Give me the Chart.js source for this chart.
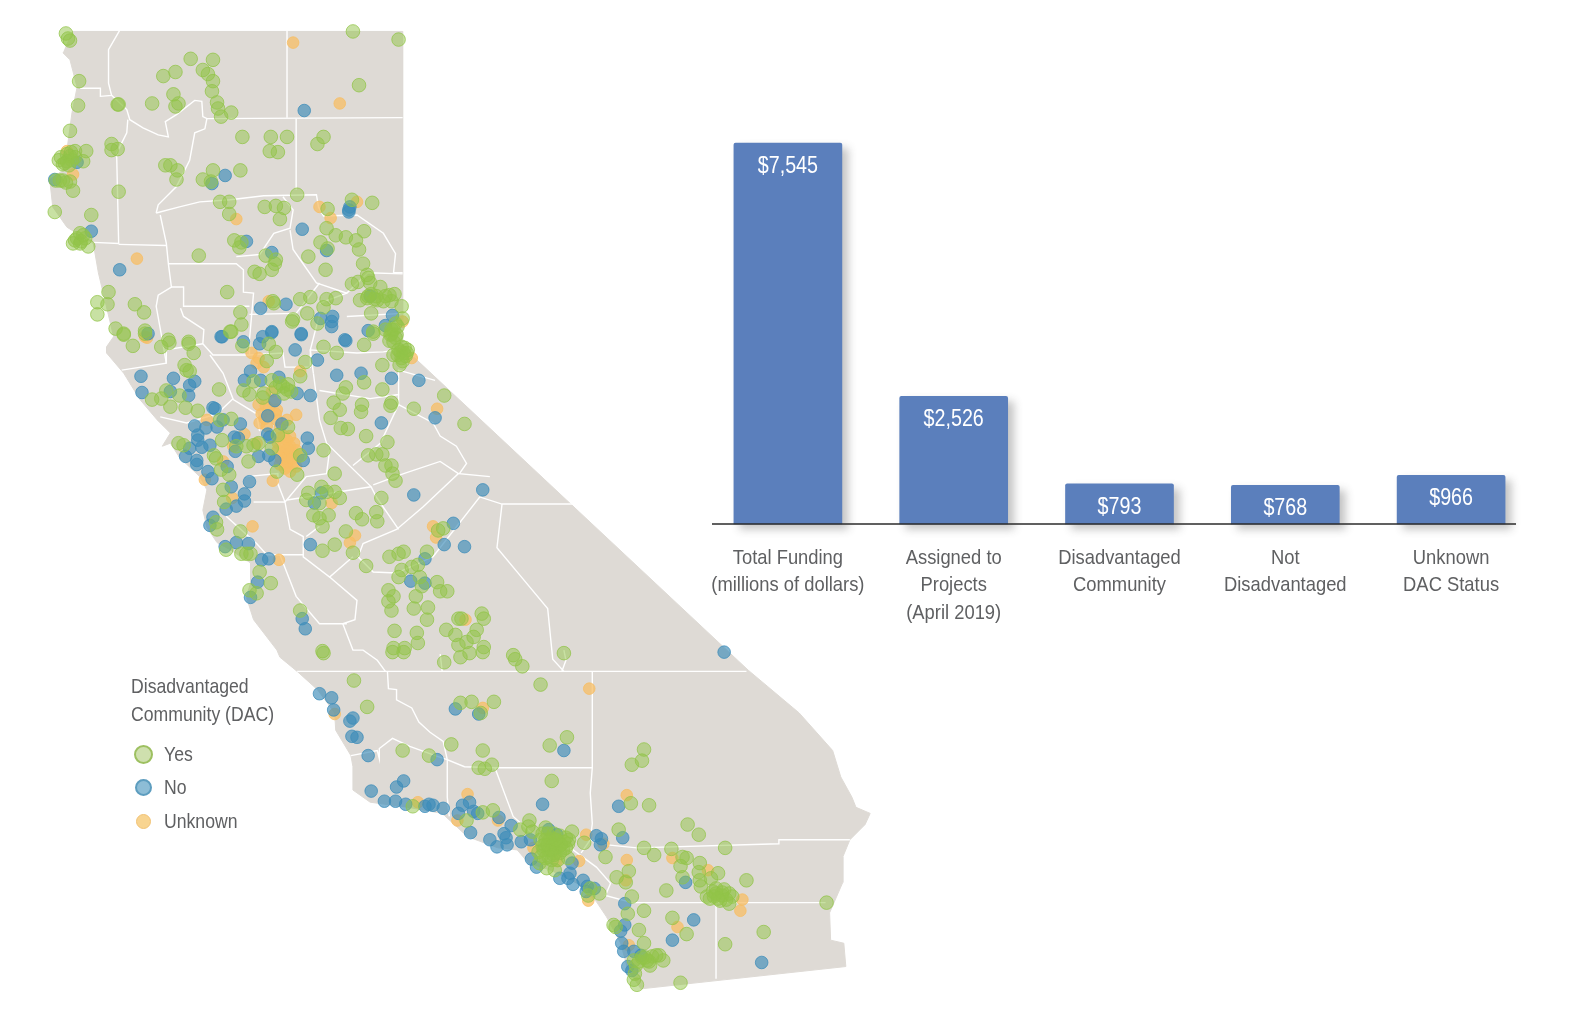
<!DOCTYPE html>
<html>
<head>
<meta charset="utf-8">
<title>Funding by disadvantaged community status</title>
<script src="https://cdn.jsdelivr.net/npm/chart.js@4"></script>
<style>
body { margin: 0; background: #fff; width: 1590px; height: 1024px; overflow: hidden; position: relative; }
canvas { position: absolute; }
#leyenda { position: absolute; left: 131px; top: 672px; color: #5f6062; font: 21px/27.5px "Liberation Sans", sans-serif; }
#legendTitle { transform: scaleX(0.84); transform-origin: left; white-space: nowrap; }
#leyenda .fila { position: absolute; left: 33px; white-space: nowrap; transform: scaleX(0.84); transform-origin: left; }
#leyenda .punto { position: absolute; border-radius: 50%; box-sizing: border-box; }
</style>
</head>
<body>
<canvas id="mapa" width="900" height="1024" style="left:0;top:0"></canvas>
<canvas id="barras" width="860" height="650" style="left:690px;top:0"></canvas>
<div id="leyenda">
  <div id="legendTitle"></div>
  <div class="punto" style="left:3px;top:73px;width:19px;height:19px;background:#cfe0ae;border:2px solid #9dc060"></div>
  <div class="fila" style="top:68px" id="leg0"></div>
  <div class="punto" style="left:4px;top:107px;width:17px;height:17px;background:#8dbdd6;border:2px solid #5d9dbf"></div>
  <div class="fila" style="top:101px" id="leg1"></div>
  <div class="punto" style="left:5px;top:142px;width:15px;height:15px;background:#f8d490;border:1px solid #f1c275"></div>
  <div class="fila" style="top:135px" id="leg2"></div>
</div>
<script>
// Datos del gráfico de barras
const categorias = [
    ['Total Funding', '(millions of dollars)'],
    ['Assigned to', 'Projects', '(April 2019)'],
    ['Disadvantaged', 'Community'],
    ['Not', 'Disadvantaged'],
    ['Unknown', 'DAC Status']
];
const montos = [7545, 2526, 793, 768, 966];

// Leyenda
const tituloLeyenda = ['Disadvantaged', 'Community (DAC)'];
const nombresLeyenda = ['Yes', 'No', 'Unknown'];

// Contorno del estado
const contorno = [[71,31],[397,31],[397,345],[409,353],[738,661],[788,703],[821,740],[829,766],[840,786],[844,796],[858,802],[853,813],[838,828],[831,845],[831,870],[818,900],[819,927],[832,930],[834,953],[632,975],[619,956],[612,930],[598,904],[588,889],[569,871],[543,858],[521,851],[510,838],[491,836],[461,825],[436,802],[402,796],[365,791],[348,779],[348,756],[346,745],[331,720],[330,703],[313,680],[293,662],[276,648],[273,641],[250,611],[243,589],[247,575],[247,555],[227,542],[214,535],[204,520],[200,503],[204,483],[197,470],[177,451],[168,437],[160,440],[168,427],[155,414],[138,394],[122,368],[105,348],[105,342],[112,332],[97,269],[92,240],[66,224],[52,204],[49,177],[62,168],[66,148],[71,111],[76,86],[69,59],[62,52]];

// Límites de condados
const condados = [
    [[118,30],[107,49],[107,82],[110,94],[99,95],[99,87],[79,87]],
    [[110,94],[125,108],[128,118],[141,126],[156,133],[166,135],[163,120],[174,113],[192,99],[199,100],[200,115],[204,117],[397,116]],
    [[204,117],[202,127],[192,131],[187,158],[174,184],[156,202],[154,210]],
    [[126,118],[125,131],[115,151],[117,240],[92,239]],
    [[117,241],[164,242]],
    [[283,30],[283,116]],
    [[292,117],[292,187]],
    [[154,210],[177,204],[197,199],[227,197],[260,193],[312,192],[314,204],[319,213],[352,212],[378,230],[390,250],[388,269],[397,269]],
    [[158,212],[164,240],[166,260],[169,283],[156,291],[154,302],[160,335],[164,358],[120,365]],
    [[166,260],[233,260],[240,266],[240,288],[250,289],[246,335],[246,350]],
    [[169,283],[181,283],[181,302],[246,302]],
    [[178,304],[181,312],[201,325],[200,339],[210,350],[246,350],[279,348],[281,362],[306,362],[306,345],[352,348],[378,347],[391,345]],
    [[233,253],[256,251],[270,230],[286,225],[289,207],[279,194]],
    [[286,227],[289,246],[312,279],[342,289],[363,269],[397,270]],
    [[246,310],[292,309],[315,279]],
    [[315,299],[342,289]],
    [[342,312],[397,309]],
    [[315,310],[306,345]],
    [[207,350],[220,368],[230,394],[253,408],[256,425]],
    [[158,411],[184,417],[214,408],[230,393]],
    [[164,358],[164,345],[200,339]],
    [[309,368],[315,414],[322,437],[366,480],[371,490],[393,522]],
    [[306,345],[309,368]],
    [[315,385],[365,393],[393,389],[393,365],[429,375]],
    [[393,399],[427,417],[434,430],[450,440],[460,457],[453,467],[483,470]],
    [[348,459],[375,437],[393,399],[393,389]],
    [[368,478],[398,467],[434,455],[452,467],[417,500],[391,522],[358,536],[353,549],[368,564],[391,565],[427,549],[473,490],[495,497],[565,497]],
    [[495,497],[490,540],[515,570],[540,600],[545,650],[556,662]],
    [[281,495],[274,477],[274,467],[243,470]],
    [[325,444],[322,467],[302,470],[281,495],[286,522],[299,529],[299,549],[325,569],[348,549]],
    [[325,569],[352,592],[350,611],[338,615],[343,628],[348,641],[358,641],[372,651],[380,662]],
    [[283,493],[366,480]],
    [[302,529],[315,519]],
    [[250,495],[281,495]],
    [[223,509],[253,536],[263,547],[299,547]],
    [[276,547],[292,588],[315,615],[342,615]],
    [[293,662],[736,662]],
    [[382,662],[383,679],[391,680],[391,690],[406,698],[413,712],[424,722],[437,731],[441,749],[458,756],[488,757],[584,757]],
    [[436,662],[434,645]],
    [[554,662],[558,651],[556,641]],
    [[584,662],[584,757],[582,782],[584,812],[582,828]],
    [[346,745],[372,740],[374,748],[374,738],[387,728],[404,736],[432,746],[441,749],[441,786],[443,805]],
    [[488,757],[506,805],[532,828],[565,838],[588,855],[602,871],[597,883],[623,890],[814,890]],
    [[706,890],[706,965]],
    [[573,841],[582,828],[599,833],[628,836],[768,832],[768,828],[838,828]]
];

const puntosSi = [[65,33],[67,38],[69,40],[348,31],[393,39],[78,80],[77,104],[117,103],[116,103],[69,129],[188,58],[210,59],[173,71],[161,75],[200,69],[205,73],[210,80],[209,90],[171,93],[176,102],[173,105],[150,102],[214,101],[215,107],[228,111],[218,115],[354,84],[239,135],[267,135],[283,135],[266,149],[274,150],[319,135],[313,142],[110,142],[110,148],[116,147],[85,149],[74,149],[69,154],[64,161],[82,159],[71,158],[66,159],[163,163],[168,163],[175,168],[174,177],[210,168],[237,168],[200,177],[208,179],[59,178],[62,178],[69,179],[72,188],[117,189],[54,209],[90,212],[217,199],[226,199],[226,211],[261,204],[272,203],[280,205],[276,216],[293,192],[347,197],[367,200],[323,206],[322,225],[331,232],[341,234],[359,228],[316,239],[351,237],[323,245],[354,246],[231,237],[238,239],[236,244],[196,252],[262,252],[272,256],[271,260],[268,266],[251,268],[256,270],[304,253],[321,266],[358,260],[362,271],[363,274],[347,280],[353,278],[365,279],[375,283],[384,291],[389,290],[396,302],[386,297],[378,297],[371,292],[362,294],[355,296],[366,309],[397,314],[390,319],[386,325],[391,330],[368,327],[107,288],[96,298],[106,300],[96,310],[133,300],[142,308],[114,324],[122,329],[143,326],[224,288],[237,308],[227,327],[238,320],[269,297],[270,299],[296,295],[306,293],[322,295],[331,294],[319,303],[303,309],[289,315],[288,317],[313,319],[79,230],[84,235],[79,240],[87,243],[74,237],[166,335],[186,337],
    [122,330],[131,341],[143,329],[159,342],[167,338],[186,339],[191,348],[182,360],[184,365],[187,366],[228,327],[239,341],[265,339],[272,347],[263,356],[319,342],[332,348],[359,340],[368,329],[386,329],[388,337],[393,345],[398,348],[401,348],[396,353],[394,360],[377,360],[301,357],[296,371],[268,375],[250,376],[279,381],[283,384],[246,389],[260,388],[216,384],[359,377],[341,382],[338,388],[377,384],[329,397],[335,404],[326,412],[357,399],[356,406],[386,397],[385,400],[408,403],[438,390],[458,418],[336,422],[343,423],[361,430],[382,436],[363,449],[371,448],[377,448],[380,459],[386,459],[387,467],[390,474],[330,467],[150,394],[159,393],[164,385],[168,401],[177,390],[183,402],[195,405],[217,414],[228,413],[219,434],[176,437],[181,439],[211,449],[213,452],[218,463],[226,468],[220,483],[221,495],[213,515],[214,522],[237,524],[223,542],[238,546],[243,546],[247,546],[256,564],[267,575],[246,582],[253,585],[296,602],[318,642],[243,440],[250,439],[255,437],[233,440],[245,455],[268,442],[274,429],[284,421],[273,465],[293,468],[296,449],[304,486],[302,493],[317,480],[322,485],[330,485],[335,491],[315,496],[309,508],[315,511],[324,508],[318,519],[351,506],[357,512],[371,505],[372,514],[376,491],[341,524],[330,537],[318,543],[348,545],[361,558],[432,523],[437,521],[384,549],[393,546],[398,544],[421,544],[396,562],[393,569],[406,559],[412,557],[414,569],[416,578],[431,574],[434,583],[441,583],[383,582],[388,588],[383,593],[386,602],[410,588],[408,600],[422,599],[421,611],[389,622],[411,624],[412,634],[440,621],[449,626],[452,610],[455,610],[475,605],[477,610],[452,636],[460,633],[470,621],[467,628],[477,638],[388,639],[399,639],[319,444],
    [319,644],[387,643],[398,643],[438,653],[454,648],[463,644],[476,643],[506,646],[508,650],[515,657],[556,644],[349,671],[533,675],[362,697],[454,693],[465,692],[487,692],[474,703],[445,734],[397,740],[423,745],[476,740],[472,757],[478,758],[485,754],[542,735],[559,727],[635,739],[633,750],[623,754],[544,770],[622,792],[640,794],[678,813],[689,823],[407,795],[460,809],[476,801],[486,799],[522,809],[521,815],[513,818],[525,820],[538,816],[564,820],[576,831],[610,818],[635,836],[645,843],[662,837],[673,845],[677,846],[715,836],[690,851],[671,854],[597,845],[620,859],[608,865],[617,870],[623,884],[673,865],[657,878],[689,860],[690,868],[691,874],[701,866],[708,861],[736,868],[697,884],[706,881],[712,883],[719,881],[710,888],[719,891],[703,879],[815,890],[635,898],[619,901],[663,905],[677,921],[753,919],[715,931],[605,912],[607,914],[630,917],[635,930],[654,947],[643,943],[647,942],[638,947],[641,952],[630,948],[625,947],[627,952],[625,966],[628,971],[671,969],[591,881],[582,876],[580,883],
    [538,828],[543,832],[551,835],[541,838],[547,841],[536,838],[556,830],[560,832],[545,827],[552,841],[541,845],[532,851],[539,856],[547,858],[560,846],[545,833],[548,836],[542,828],[550,829],[537,833],
    // racimos densos
    [535,822],[540,822],[546,822],[552,824],[558,826],[533,828],[535,834],[531,840],[534,844],[538,846],[544,848],[550,848],[555,838],[558,836],[561,828],[544,838],[540,833],[553,833],[548,828],[546,843],
    [396,342],[399,343],[402,345],[392,350],[395,347],[400,351],[397,356],[388,350],[385,330],[388,325],[392,322],[384,336],[380,325],[390,333],
    [60,155],[66,152],[70,150],[62,162],[58,158],[74,155],[68,163],[55,178],[65,180],[76,235],[82,232],[80,238],[72,240],
    [706,876],[714,877],[700,886],[704,884],[716,887],[712,880],[708,886],[722,884],
    [363,292],[366,290],[369,295],[372,296],[380,292],[240,385],[284,379],[287,386],[276,378],[272,382],[280,388],[259,392],
    [640,948],[636,944],[650,942],[633,944],[626,960]];

const puntosNo = [[300,109],[222,173],[54,177],[76,160],[209,181],[344,207],[344,209],[345,204],[298,226],[243,238],[322,247],[268,249],[90,228],[118,266],[257,304],[282,300],[328,312],[327,317],[316,314],[327,322],[387,311],[365,292],[363,326],[380,321],[219,332],[268,328],[259,332],[297,329],[146,329],[340,335],[240,337],
    [218,332],[256,339],[268,327],[297,330],[291,345],[313,355],[341,336],[332,370],[356,368],[386,373],[413,375],[429,412],[376,417],[306,390],[293,388],[275,372],[257,375],[241,375],[247,366],[271,395],[139,371],[140,387],[171,373],[186,390],[187,380],[192,376],[168,386],[210,402],[212,403],[220,414],[203,422],[192,420],[195,429],[195,434],[214,421],[237,418],[231,431],[235,432],[232,445],[199,441],[207,439],[187,442],[183,450],[194,454],[194,458],[205,465],[209,472],[224,460],[246,475],[228,480],[241,487],[241,494],[233,499],[223,502],[210,510],[207,518],[222,539],[233,535],[245,536],[258,552],[265,551],[254,574],[247,589],[298,610],[301,620],[306,537],[278,418],[264,410],[264,428],[266,431],[303,432],[304,442],[299,454],[271,454],[255,450],[265,449],[408,488],[476,483],[310,496],[317,486],[447,516],[438,537],[458,539],[419,551],[405,573],[419,575],
    [714,643],[315,684],[327,688],[329,700],[348,708],[345,711],[347,726],[352,727],[363,745],[431,749],[449,699],[472,704],[556,740],[535,793],[610,795],[398,770],[391,776],[366,780],[379,790],[390,790],[400,793],[419,795],[423,793],[427,794],[437,797],[456,794],[463,791],[452,802],[467,800],[471,802],[492,806],[464,821],[483,828],[490,835],[497,822],[499,826],[500,833],[504,814],[514,830],[524,847],[529,855],[564,851],[562,861],[552,866],[560,866],[575,868],[565,872],[579,874],[586,876],[578,879],[588,824],[593,827],[592,833],[614,826],[676,870],[616,891],[616,912],[612,918],[613,930],[615,938],[625,938],[632,942],[619,953],[623,957],[684,907],[663,927],[751,949],[523,828],[549,823],[541,818]];

const puntosDesconocido = [[289,42],[335,102],[66,149],[72,172],[315,204],[352,199],[326,215],[233,216],[135,255],[265,297],[397,317],[143,332],
    [145,333],[248,348],[255,353],[260,362],[253,358],[296,366],[268,386],[255,399],[265,403],[273,404],[292,409],[261,413],[256,417],[273,414],[283,414],[276,422],[283,434],[286,440],[279,440],[289,447],[283,450],[289,457],[283,460],[278,447],[274,437],[286,465],[269,474],[241,428],[253,437],[230,440],[204,414],[202,473],[220,455],[229,491],[249,519],[275,552],[327,496],[350,528],[345,535],[431,403],[427,519],[430,530],[459,611],[406,353],
    [581,679],[330,704],[476,698],[461,783],[412,791],[451,809],[491,809],[618,784],[578,823],[595,832],[571,849],[526,836],[549,849],[618,848],[617,868],[663,846],[698,858],[732,887],[730,898],[668,914],[580,888],[620,932],
    // mancha de Sacramento
    [280,430],[286,430],[276,432],[290,437],[274,444],[280,446],[286,446],[292,444],[277,452],[283,456],[288,452],[294,450],[281,462],[276,458],[292,460],[284,442],[262,400],[270,396],[258,408],[266,410],[272,408],[263,420]];

const FUENTE = '"Liberation Sans", sans-serif';
const ESCALA = 0.986; // las coordenadas del mapa se leyeron de la imagen reducida

const aXY = lista => lista.map(p => ({ x: p[0], y: p[1] }));

document.getElementById('legendTitle').innerHTML = tituloLeyenda.join('<br>');
nombresLeyenda.forEach((n, i) => document.getElementById('leg' + i).textContent = n);

// --- Mapa ---
function puntos(lista, relleno, borde, radio) {
    return {
        data: aXY(lista),
        showLine: false,
        pointRadius: radio,
        pointBackgroundColor: relleno,
        pointBorderColor: borde,
        pointBorderWidth: 1
    };
}

const lineasCondado = condados.map(l => ({
    data: aXY(l),
    showLine: true,
    pointRadius: 0,
    borderColor: '#ffffff',
    borderWidth: 1.4,
    tension: 0
}));

new Chart(document.getElementById('mapa'), {
    type: 'scatter',
    data: {
        datasets: [
            puntos(puntosSi, 'rgba(146,196,72,0.5)', 'rgba(146,196,72,0.75)', 6.8),
            puntos(puntosNo, 'rgba(60,140,185,0.65)', 'rgba(60,140,185,0.75)', 6.3),
            puntos(puntosDesconocido, 'rgba(247,190,100,0.75)', 'rgba(247,190,100,0.8)', 5.8),
            ...lineasCondado,
            {
                data: aXY(contorno),
                showLine: true,
                pointRadius: 0,
                tension: 0,
                borderColor: '#dedad5',
                borderWidth: 1,
                backgroundColor: '#dedad5',
                fill: 'shape'
            }
        ]
    },
    options: {
        responsive: false,
        animation: false,
        events: [],
        layout: { autoPadding: false },
        plugins: { legend: { display: false }, tooltip: { enabled: false } },
        scales: {
            x: { display: false, min: 0, max: 900 * ESCALA },
            y: { display: false, min: 0, max: 1024 * ESCALA, reverse: true }
        }
    }
});

// --- Barras ---
const sombra = {
    id: 'sombra',
    beforeDatasetDraw(chart) {
        const ctx = chart.ctx;
        ctx.save();
        ctx.shadowColor = 'rgba(60,60,60,0.3)';
        ctx.shadowBlur = 9;
        ctx.shadowOffsetX = 6;
        ctx.shadowOffsetY = 5;
    },
    afterDatasetDraw(chart) {
        chart.ctx.restore();
    }
};

// texto angosto: la fuente original es condensada
function textoAngosto(ctx, texto, x, y, ancho) {
    ctx.save();
    ctx.translate(x, y);
    ctx.scale(ancho, 1);
    ctx.fillText(texto, 0, 0);
    ctx.restore();
}

const etiquetas = {
    id: 'etiquetas',
    afterDatasetsDraw(chart) {
        const ctx = chart.ctx;
        const y0 = chart.scales.y.getPixelForValue(0);
        // línea base
        ctx.save();
        ctx.strokeStyle = '#2b2b2b';
        ctx.lineWidth = 1.5;
        ctx.beginPath();
        ctx.moveTo(22, y0);
        ctx.lineTo(826, y0);
        ctx.stroke();
        ctx.textAlign = 'center';
        ctx.textBaseline = 'middle';
        // valores
        ctx.fillStyle = '#ffffff';
        ctx.font = '24px ' + FUENTE;
        chart.getDatasetMeta(0).data.forEach((barra, i) => {
            textoAngosto(ctx, '$' + montos[i].toLocaleString('en-US'), barra.x, barra.y + 23, 0.82);
        });
        // categorías
        ctx.fillStyle = '#5f6062';
        ctx.font = '21px ' + FUENTE;
        categorias.forEach((lineas, i) => {
            const x = chart.scales.x.getPixelForTick(i);
            lineas.forEach((t, j) => textoAngosto(ctx, t, x, y0 + 34 + j * 27.4, 0.875));
        });
        ctx.restore();
    }
};

new Chart(document.getElementById('barras'), {
    type: 'bar',
    data: {
        labels: categorias,
        datasets: [{
            data: montos,
            backgroundColor: '#5b7fbc',
            barThickness: 108,
            borderRadius: 2,
            borderSkipped: 'bottom',
            clip: false
        }]
    },
    plugins: [sombra, etiquetas],
    options: {
        responsive: false,
        animation: false,
        events: [],
        layout: { autoPadding: false, padding: { left: 15, right: 16, top: 120, bottom: 126 } },
        plugins: { legend: { display: false }, tooltip: { enabled: false } },
        scales: {
            x: { display: false },
            y: { display: false, min: 0, max: 8000 }
        }
    }
});
</script>
</body>
</html>
